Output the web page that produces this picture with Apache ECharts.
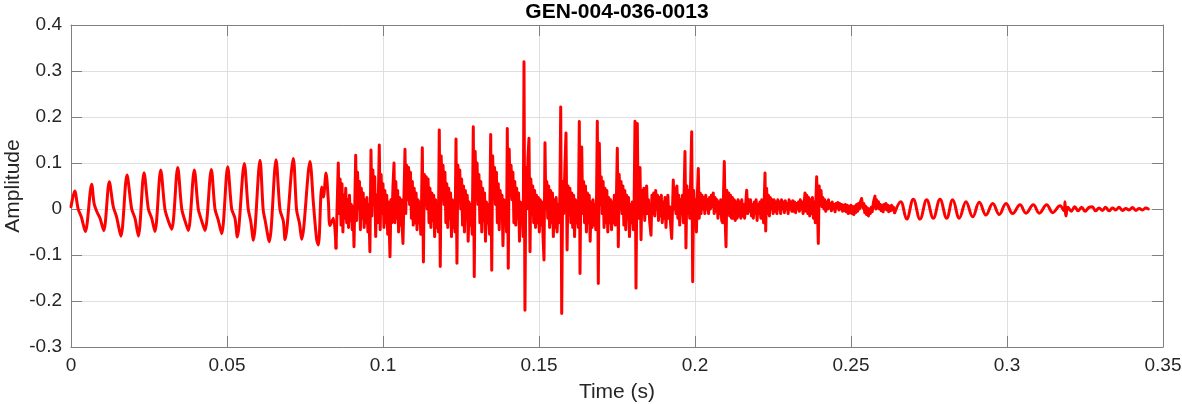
<!DOCTYPE html>
<html><head><meta charset="utf-8">
<script src="https://cdn.jsdelivr.net/npm/echarts@6/dist/echarts.min.js"></script>
<style>html,body{margin:0;padding:0;background:#fff}#chart{width:1182px;height:404px}</style>
</head><body><div id="chart"></div>
<script>
const chartTitle = 'GEN-004-036-0013';
const xAxisTitle = 'Time (s)';
const yAxisTitle = 'Amplitude';
const xTickLabels = ['0','0.05','0.1','0.15','0.2','0.25','0.3','0.35'];
const yTickLabels = ['-0.3','-0.2','-0.1','0','0.1','0.2','0.3','0.4'];

// samples: [time in ms, amplitude]
const onsetSamples = [[0,0.005],[1.19,0.039],[2.3,0.0],[3.3,-0.017],[4.6,-0.049],[6.63,0.054],[7.4,0.012],[8.3,-0.006],[9.3,-0.02],[10.5,-0.047],[12.28,0.059],[13.55,0.005],[14.6,-0.017],[16.0,-0.059],[17.95,0.074],[19.45,0.0],[20.5,-0.02],[21.6,-0.059],[23.4,0.079],[24.8,0.0],[25.85,-0.02],[26.9,-0.049],[28.75,0.085],[30.1,0.0],[31.2,-0.026],[32.3,-0.044],[34.2,0.09],[35.5,0.0],[36.55,-0.026],[37.6,-0.047],[39.52,0.085],[40.8,0.0],[41.9,-0.026],[42.95,-0.047],[44.97,0.086],[46.15,0.0],[47.2,-0.024],[48.3,-0.054],[50.22,0.092],[51.5,0.0],[52.55,-0.02],[53.3,-0.061],[55.54,0.099],[56.8,0.0],[57.6,-0.026],[58.45,-0.068],[60.58,0.106],[61.6,-0.002],[62.2,-0.024],[63.55,-0.071],[65.71,0.107],[66.99,-0.002],[68.05,-0.026],[68.6,-0.067],[71.25,0.11],[72.3,-0.002],[73.2,-0.03],[73.95,-0.066],[76.6,0.103],[77.7,0.012],[78.75,-0.067],[79.3,-0.078],[80.35,0.048],[80.9,0.026],[81.73,0.078],[82.5,0.016],[83.0,-0.036],[84.1,-0.02],[84.94,-0.085]];

const burstSamples = [[84.94,-0.085],[85.67,0.100],[85.95,-0.010],[86.25,0.065],[86.55,-0.035],[86.85,0.055],[87.15,-0.050],[87.45,0.030],[87.75,-0.020],[88.05,0.045],[88.35,-0.030],[88.65,0.020],[88.95,-0.040],[89.25,0.030],[89.55,-0.025],[89.85,0.010],[90.15,-0.045],[90.45,0.005],[90.7,-0.082],
[91.25,0.117],[91.55,-0.025],[91.85,0.080],[92.15,0.000],[92.45,0.060],[92.75,-0.045],[93.05,0.045],[93.35,-0.020],[93.65,0.035],[93.95,-0.040],[94.25,0.020],[94.55,-0.030],[94.85,0.025],[95.15,-0.050],[95.45,0.010],[95.8,-0.093],
[96.15,0.128],[96.45,-0.015],[96.75,0.085],[97.05,0.010],[97.35,0.070],[97.65,-0.060],[97.95,0.030],[98.25,-0.030],[98.55,0.040],[98.81,0.139],[99.1,-0.045],[99.4,0.075],[99.7,-0.010],[100.0,0.055],[100.3,-0.040],[100.6,0.040],[100.9,-0.030],[101.2,0.030],[101.5,-0.055],[101.8,0.015],[102.0,-0.040],[102.24,-0.104],
[102.55,0.020],[102.85,-0.030],[103.2,0.050],[103.53,0.100],[103.8,-0.030],[104.1,0.060],[104.4,-0.020],[104.7,0.040],[105.0,-0.050],[105.3,0.025],[105.6,-0.035],[105.9,0.020],[106.15,-0.040],[106.4,-0.075],
[107.05,0.130],[107.3,-0.010],[107.6,0.095],[107.9,0.020],[108.2,0.090],[108.5,0.010],[108.8,0.080],[109.1,-0.020],[109.4,0.060],[109.7,-0.035],[110.0,0.045],[110.3,-0.030],[110.6,0.035],[110.9,-0.045],[111.2,0.020],[111.5,-0.030],[111.8,0.015],[112.1,-0.055],[112.35,0.010],
[112.6,0.133],[112.95,-0.115],[113.25,0.075],[113.55,0.010],[113.85,0.070],[114.15,0.000],[114.45,0.065],[114.75,-0.030],[115.05,0.045],[115.35,-0.040],[115.65,0.035],[115.95,-0.025],[116.25,0.030],[116.55,-0.060],[116.85,0.020],[117.15,-0.040],[117.45,0.010],[117.75,-0.050],
[118.04,0.172],[118.35,-0.125],[118.65,0.115],[118.95,0.020],[119.25,0.095],[119.55,0.010],[119.85,0.080],[120.15,-0.030],[120.45,0.055],[120.75,-0.040],[121.05,0.045],[121.35,-0.020],[121.65,0.035],[121.95,-0.060],[122.25,0.020],[122.55,-0.040],[122.85,0.015],[123.1,-0.050],
[123.4,0.152],[123.7,-0.118],[124.0,0.095],[124.3,0.015],[124.6,0.085],[124.9,0.000],[125.2,0.065],[125.5,-0.035],[125.8,0.050],[126.1,-0.050],[126.4,0.040],[126.7,-0.020],[127.0,0.030],[127.3,-0.070],[127.6,0.015],[127.9,-0.035],[128.2,0.010],[128.6,-0.055],
[128.94,0.179],[129.25,-0.147],[129.55,0.125],[129.85,0.020],[130.15,0.100],[130.45,0.010],[130.75,0.075],[131.05,-0.030],[131.35,0.060],[131.65,-0.050],[131.95,0.045],[132.25,-0.025],[132.55,0.035],[132.85,-0.070],[133.15,0.015],[133.45,-0.030],[133.75,0.010],[134.15,-0.055],
[134.52,0.162],[134.85,-0.133],[135.15,0.115],[135.45,0.025],[135.75,0.090],[136.05,0.010],[136.35,0.080],[136.65,-0.030],[136.95,0.055],[137.25,-0.045],[137.55,0.040],[137.85,-0.020],[138.15,0.030],[138.45,-0.080],[138.75,0.020],[139.05,-0.030],[139.35,0.010],[139.6,-0.050],
[139.84,0.175],[140.15,-0.129],[140.45,0.130],[140.75,0.030],[141.05,0.095],[141.35,0.020],[141.65,0.080],[141.95,-0.030],[142.25,0.060],[142.55,-0.035],[142.85,0.045],[143.15,-0.020],[143.45,0.035],[143.75,-0.070],[144.05,0.015],[144.35,-0.030],[144.65,0.010],[144.95,-0.060],
[145.19,0.320],[145.5,-0.220],[145.8,0.090],[146.1,0.000],[146.45,0.110],[146.79,0.154],[147.12,-0.093],[147.4,0.065],[147.7,-0.010],[148.0,0.050],[148.3,-0.030],[148.6,0.040],[148.9,-0.040],[149.2,0.030],[149.5,-0.030],[149.8,0.025],[150.1,-0.050],[150.4,0.020],[150.7,-0.035],[151.0,0.015],[151.3,-0.060],[151.6,-0.111],
[151.92,0.144],[152.2,0.000],[152.5,0.060],[152.8,-0.020],[153.1,0.050],[153.4,-0.040],[153.7,0.040],[154.0,-0.030],[154.3,0.035],[154.6,-0.060],[154.9,0.020],[155.2,-0.040],[155.5,0.025],[155.8,-0.050],[156.1,0.010],[156.4,-0.030],[156.7,0.030],
[156.96,0.222],[157.28,-0.227],[157.6,0.060],[157.9,-0.010],[158.3,0.090],[158.65,0.165],[159.0,-0.089],[159.3,0.050],[159.6,-0.010],[159.9,0.045],[160.2,-0.030],[160.5,0.035],[160.8,-0.040],[161.1,0.030],[161.4,-0.060],[161.7,0.020],[162.0,-0.030],[162.3,0.015],[162.6,-0.040],
[162.92,0.190],[163.14,-0.140],[163.45,0.080],[163.69,0.135],[164.0,-0.010],[164.3,0.060],[164.6,-0.030],[164.9,0.050],[165.2,-0.050],[165.5,0.035],[165.8,-0.030],[166.1,0.030],[166.4,-0.070],[166.7,0.015],[167.0,-0.040],[167.3,0.020],[167.6,-0.035],[167.9,0.010],[168.2,-0.045],[168.45,0.030],
[168.69,0.191],[169.01,-0.162],[169.33,0.143],[169.65,0.010],[169.95,0.070],[170.25,-0.010],[170.55,0.060],[170.85,-0.040],[171.15,0.045],[171.45,-0.030],[171.75,0.040],[172.05,-0.050],[172.35,0.025],[172.65,-0.030],[172.95,0.020],[173.25,-0.045],[173.55,0.015],[173.85,-0.030],[174.15,0.030],[174.45,-0.035],[174.8,0.020],
[175.1,0.132],[175.42,-0.082],[175.7,0.075],[176.0,0.000],[176.3,0.060],[176.6,-0.010],[176.9,0.050],[177.2,-0.035],[177.5,0.040],[177.8,-0.045],[178.1,0.030],[178.4,-0.020],[178.7,0.025],[179.0,-0.060],[179.3,0.010],[179.6,-0.030],[179.9,0.015],[180.25,-0.045],[180.5,0.020],
[180.77,0.191],[181.09,-0.172],[181.51,0.186],[181.8,-0.020],[182.1,0.040],[182.37,0.090],[182.7,-0.067],[183.0,0.040],[183.3,-0.010],[183.6,0.045],[183.9,-0.025],[184.2,0.030],[184.5,0.050],[184.8,-0.010],[185.1,0.020],[185.5,-0.030],[185.9,-0.057],
[186.2,0.030],[186.5,-0.010],[186.8,0.035],[187.1,-0.015],[187.4,0.040],[187.7,0.000],[188.0,0.030],[188.3,-0.025],[188.6,0.025],[188.9,-0.015],[189.2,0.030],[189.5,-0.030],[189.8,0.015],[190.1,-0.020],[190.4,0.025],[190.7,-0.040],[191.0,0.010],[191.3,0.030],[191.6,-0.020],[191.9,0.005],[192.2,-0.035],[192.53,-0.064],
[193.04,0.063],[193.3,0.000],[193.6,0.045],[193.9,-0.010],[194.2,0.050],[194.5,-0.020],[194.8,0.030],[195.1,-0.035],[195.4,0.020],[195.7,-0.010],[196.0,0.030],[196.3,-0.030],[196.55,0.050],[196.79,0.125],[197.1,-0.085],[197.4,0.050],[197.7,-0.010],[198.0,0.040],[198.3,-0.020],[198.6,0.060],
[198.94,0.168],[199.26,-0.158],[199.55,0.040],[199.85,-0.010],[200.15,0.020],[200.45,-0.050],[200.75,0.030],[201.06,0.088],[201.35,-0.020],[201.65,0.035],[201.95,-0.010],[202.25,0.030],[202.55,0.000],[202.85,0.025],[203.15,-0.010],[203.45,0.030],[203.75,0.000],[204.05,0.020],[204.35,-0.010],[204.65,0.025],[204.95,0.000],[205.25,0.030],[205.55,0.005],[205.85,0.035],[206.15,-0.010],[206.45,0.025],[206.75,-0.005],[207.05,0.020],[207.35,-0.020],[207.65,0.015],[207.95,-0.010],[208.25,0.020],[208.55,-0.025],[208.85,-0.030],[209.1,0.020],
[209.39,0.103],[209.7,-0.030],[209.94,-0.082],[210.2,0.040],[210.5,-0.010],[210.8,0.035],[211.1,-0.015],[211.4,0.030],[211.7,-0.020],[212.0,0.025],[212.3,-0.020],[212.6,0.020],[212.9,-0.025],[213.2,0.015],[213.5,-0.020],[213.8,0.020],[214.1,-0.015],[214.4,0.015],[214.7,-0.020],[215.0,0.020],[215.3,-0.015],[215.6,0.010],[215.9,-0.020],[216.25,0.010],
[216.57,0.041],[216.9,-0.010],[217.2,0.020],[217.5,-0.005],[217.8,0.020],[218.1,-0.015],[218.4,0.010],[218.7,-0.020],[219.0,0.015],[219.3,-0.010],[219.6,0.020],[219.9,-0.025],[220.2,0.010],[220.5,-0.010],[220.8,0.015],[221.1,-0.020],[221.4,0.020],[221.7,-0.010],[222.0,-0.030],[222.2,0.020],
[222.44,0.078],[222.66,-0.048],[222.95,0.045],[223.25,-0.010],[223.55,0.030],[223.85,-0.015],[224.15,0.025],[224.45,0.000],[224.75,0.020],[225.05,-0.010],[225.35,0.020],[225.65,-0.005],[225.95,0.015],[226.25,-0.010],[226.55,0.020],[226.85,0.000],[227.15,0.015],[227.45,-0.010],[227.75,0.020],[228.05,0.000],[228.35,0.015],[228.65,-0.008],[228.95,0.018],[229.25,0.000],[229.55,0.012],[229.85,-0.010],[230.15,0.020],[230.45,0.000],[230.75,0.015],[231.05,-0.005],[231.35,0.018],[231.65,-0.005],[231.95,0.015],[232.25,-0.008],[232.55,0.012],[232.85,0.000],[233.15,0.015],[233.45,-0.005],[233.75,0.020],[234.05,0.000],[234.35,0.015],[234.65,-0.010],[234.95,0.010],
[235.26,0.035],[235.55,-0.005],[235.85,0.030],[236.15,-0.010],[236.45,0.025],[236.75,-0.015],[237.05,0.020],[237.35,-0.010],[237.65,0.025],[237.95,-0.020],[238.25,0.015],[238.55,-0.030],[238.8,0.030],[239.0,0.070],[239.25,0.000],[239.52,-0.075],[239.8,0.050],[240.1,0.010]];

const tailNoiseSamples = [[240.4,0.040],[240.7,0.005],[241.0,0.025],[241.3,0.000],[241.6,0.020],[241.9,-0.005],[242.2,0.015],[242.5,0.000],[242.8,0.020],[243.1,0.002],[243.4,0.012],[243.7,-0.004],[244.0,0.015],[244.3,0.000],[244.6,0.010],[244.9,-0.006],[245.2,0.012],[245.5,0.002],[245.8,0.014],[246.1,-0.002],[246.4,0.012],[246.7,0.000],[247.0,0.010],[247.3,-0.005],[247.6,0.008],[247.9,-0.004],[248.2,0.010],[248.5,-0.006],[248.8,0.008],[249.1,-0.010],[249.4,0.006],[249.7,-0.008],[250.0,0.008],[250.3,-0.010],[250.6,0.005],[250.9,-0.012],[251.2,0.006],[251.5,-0.008],[251.8,0.010],[252.1,-0.005],[252.4,0.012],[252.7,0.000],[253.0,0.015],[253.4,0.023],[253.8,0.002],[254.1,0.012],[254.4,-0.008],[254.7,0.006],[255.0,-0.012],[255.3,0.002],[255.6,-0.015],[255.9,0.000],[256.2,-0.010],[256.5,0.004],[256.8,-0.006],[257.2,0.015],[257.69,0.028],[257.95,0.000],[258.2,0.020],[258.5,0.002],[258.8,0.016],[259.1,0.000],[259.4,0.010],[259.7,-0.004],[260.0,0.008],[260.3,-0.006],[260.6,0.010],[260.9,0.000],[261.2,0.012],[261.5,-0.002],[261.8,0.008],[262.1,-0.006],[262.4,0.006],[262.7,-0.004],[263.0,0.008],[263.3,-0.002],[263.6,0.004],[264.0,-0.008]];

const ringSamples = [[264.0,-0.008],[265.93,0.016],[267.85,-0.022],[269.97,0.021],[272.12,-0.022],[274.26,0.020],[276.38,-0.020],[278.53,0.021],[280.67,-0.020],[282.6,0.020],[284.71,-0.020],[286.86,0.016],[289.01,-0.017],[291.12,0.0145],[293.27,-0.013],[295.42,0.012],[297.53,-0.012],[299.68,0.012],[301.83,-0.010],[304.17,0.009],[306.09,-0.009],[308.43,0.009],[310.35,-0.009],[312.72,0.009],[314.65,-0.008],[316.99,0.007],[318.3,-0.004],[318.59,0.016],[318.9,-0.015],[319.5,0.004],[320.6,-0.005],[321.7,0.005],[322.8,-0.004],[323.9,0.004],[325.0,-0.005],[326.2,0.003],[327.3,0.005],[328.4,-0.004],[329.5,0.002],[330.6,-0.003],[331.6,0.004],[332.7,-0.004],[333.8,0.002],[334.9,-0.002],[335.9,0.004],[337.0,-0.003],[338.1,0.001],[339.1,-0.002],[340.2,0.003],[341.3,-0.003],[342.4,0.001],[343.4,-0.002],[344.5,0.002],[345.3,0.000]];

const toSeconds = s => s.map(p => [p[0] / 1000, p[1]]);

const FONT = "'Liberation Sans', Arial, Helvetica, sans-serif";
const AX = '#808080';
const fmtX = v => xTickLabels[Math.round(v / 0.05)];
const fmtY = v => yTickLabels[Math.round((v + 0.3) / 0.1)];
const redLine = {color: '#ff0000', width: 3, join: 'round', cap: 'round'};

const chart = echarts.init(document.getElementById('chart'), null, {renderer: 'canvas'});
chart.setOption({
  animation: false,
  backgroundColor: '#ffffff',
  title: {
    text: chartTitle, left: 617, top: 2, padding: 0, textAlign: 'center',
    textStyle: {fontFamily: FONT, fontSize: 21, fontWeight: 'bold', color: '#000000'}
  },
  grid: {left: 71, right: 19, top: 25, bottom: 57, containLabel: false, outerBoundsMode: 'none'},
  xAxis: [{
    type: 'value', min: 0, max: 0.35, interval: 0.05, position: 'bottom',
    name: xAxisTitle, nameLocation: 'middle', nameGap: 35,
    nameTextStyle: {fontFamily: FONT, fontSize: 21, color: '#262626'},
    axisLine: {show: true, onZero: false, lineStyle: {color: AX, width: 1}},
    axisTick: {show: true, inside: true, length: 11, lineStyle: {color: AX}},
    axisLabel: {show: true, margin: 9, fontFamily: FONT, fontSize: 19, color: '#262626', formatter: fmtX},
    splitLine: {show: true, lineStyle: {color: '#dfdfdf', width: 1}}
  }, {
    type: 'value', min: 0, max: 0.35, interval: 0.05, position: 'top',
    axisLine: {show: true, onZero: false, lineStyle: {color: AX, width: 1}},
    axisTick: {show: true, inside: true, length: 11, lineStyle: {color: AX}},
    axisLabel: {show: false}, splitLine: {show: false}
  }],
  yAxis: [{
    type: 'value', min: -0.3, max: 0.4, interval: 0.1, position: 'left',
    name: yAxisTitle, nameLocation: 'middle', nameGap: 47, nameMoveOverlap: false,
    nameTextStyle: {fontFamily: FONT, fontSize: 21, color: '#262626'},
    axisLine: {show: true, onZero: false, lineStyle: {color: AX, width: 1}},
    axisTick: {show: true, inside: true, length: 11, lineStyle: {color: AX}},
    axisLabel: {show: true, margin: 9, fontFamily: FONT, fontSize: 19, color: '#262626', formatter: fmtY},
    splitLine: {show: true, lineStyle: {color: '#dfdfdf', width: 1}}
  }, {
    type: 'value', min: -0.3, max: 0.4, interval: 0.1, position: 'right',
    axisLine: {show: true, onZero: false, lineStyle: {color: AX, width: 1}},
    axisTick: {show: true, inside: true, length: 11, lineStyle: {color: AX}},
    axisLabel: {show: false}, splitLine: {show: false}
  }],
  series: [{
    type: 'line', data: toSeconds(onsetSamples), xAxisIndex: 0, yAxisIndex: 0,
    showSymbol: false, symbol: 'none', smooth: 0.3, lineStyle: redLine
  }, {
    type: 'line', data: toSeconds(burstSamples.concat(tailNoiseSamples)), xAxisIndex: 0, yAxisIndex: 0,
    showSymbol: false, symbol: 'none', sampling: null, lineStyle: redLine
  }, {
    type: 'line', data: toSeconds(ringSamples), xAxisIndex: 0, yAxisIndex: 0,
    showSymbol: false, symbol: 'none', smooth: 0.4, lineStyle: redLine
  }]
});
</script>
</body></html>
